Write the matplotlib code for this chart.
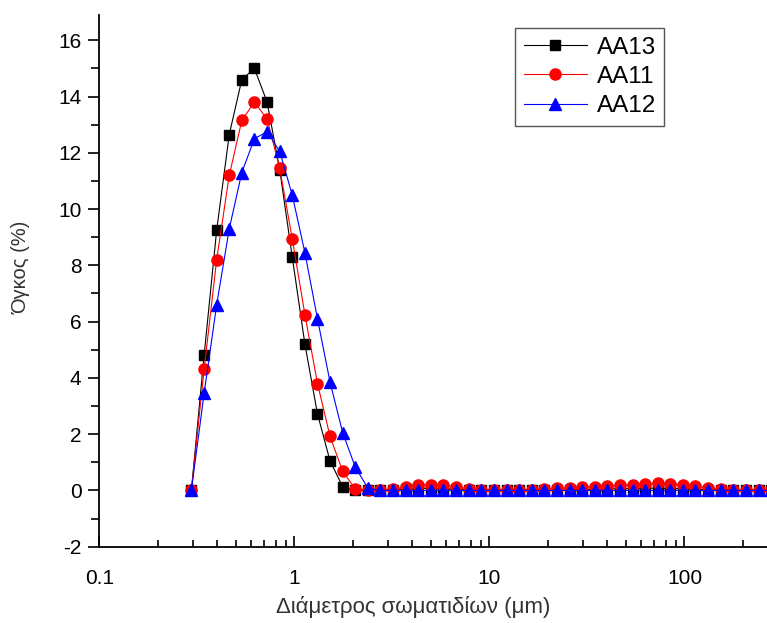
import matplotlib
matplotlib.use('Agg')
import matplotlib.pyplot as plt
from matplotlib.ticker import FixedLocator, NullFormatter, MultipleLocator

plt.rcParams['font.family'] = ['Liberation Sans', 'DejaVu Sans']
plt.rcParams['axes.unicode_minus'] = False

# particle diameter bins (um)
diameter = [0.296, 0.344, 0.399, 0.463, 0.537, 0.623, 0.724, 0.840, 0.974, 1.131,
            1.312, 1.522, 1.767, 2.050, 2.379, 2.761, 3.204, 3.718, 4.314, 5.007,
            5.810, 6.743, 7.825, 9.080, 10.54, 12.23, 14.19, 16.46, 19.10, 22.17,
            25.73, 29.85, 34.64, 40.20, 46.65, 54.14, 62.83, 72.91, 84.60, 98.15,
            113.9, 132.2, 153.4, 178.0, 206.5, 239.7, 278.1]

aa13 = [0.0, 4.8, 9.25, 12.65, 14.6, 15.0, 13.8, 11.4, 8.3, 5.2,
        2.72, 1.05, 0.13, 0.0, 0.0, 0.0, 0.02, 0.05, 0.07, 0.08,
        0.06, 0.04, 0.02, 0.0, 0.0, 0.0, 0.0, 0.0, 0.0, 0.0,
        0.02, 0.03, 0.04, 0.05, 0.06, 0.07, 0.08, 0.08, 0.07, 0.06,
        0.04, 0.02, 0.0, 0.0, 0.0, 0.0, 0.0]

aa11 = [0.0, 4.3, 8.2, 11.2, 13.15, 13.8, 13.2, 11.45, 8.95, 6.25,
        3.8, 1.92, 0.68, 0.05, 0.0, 0.0, 0.05, 0.12, 0.19, 0.21,
        0.18, 0.12, 0.06, 0.03, 0.02, 0.02, 0.02, 0.03, 0.05, 0.07,
        0.09, 0.11, 0.13, 0.15, 0.18, 0.21, 0.24, 0.25, 0.24, 0.21,
        0.16, 0.09, 0.04, 0.01, 0.0, 0.0, 0.0]

aa12 = [0.0, 3.45, 6.6, 9.3, 11.3, 12.5, 12.75, 12.05, 10.5, 8.45,
        6.1, 3.85, 2.05, 0.83, 0.08, 0.0, 0.0, 0.0, 0.0, 0.0,
        0.0, 0.0, 0.0, 0.0, 0.0, 0.0, 0.0, 0.0, 0.0, 0.0,
        0.0, 0.0, 0.0, 0.0, 0.0, 0.0, 0.0, 0.0, 0.0, 0.0,
        0.0, 0.0, 0.0, 0.0, 0.0, 0.0, 0.0]

fig = plt.figure(figsize=(7.67, 6.23), dpi=100)
ax = fig.add_axes([0.1297, 0.1225, 0.8703, 0.8535])

ax.plot(diameter, aa13, color='black', lw=0.8, marker='s', ms=7, label='AA13')
ax.plot(diameter, aa11, color='red', lw=0.8, marker='o', ms=8, label='AA11')
ax.plot(diameter, aa12, color='blue', lw=0.8, marker='^', ms=8.5, label='AA12')

ax.set_xscale('log')
ax.set_xlim(0.1, 265)
ax.set_ylim(-2, 16.9)

ax.set_xticks([0.1, 1, 10, 100])
ax.set_xticklabels(['0.1', '1', '10', '100'])
minors = [m * 10.0 ** e for e in range(-1, 3) for m in range(2, 10)]
ax.xaxis.set_minor_locator(FixedLocator(minors))
ax.xaxis.set_minor_formatter(NullFormatter())
ax.yaxis.set_major_locator(MultipleLocator(2))
ax.yaxis.set_minor_locator(MultipleLocator(1))

ax.tick_params(axis='x', which='major', direction='in', length=8, width=1.2, labelsize=15, pad=16)
ax.tick_params(axis='x', which='minor', direction='in', length=5, width=1.2)
ax.tick_params(axis='y', which='major', direction='out', length=8, width=1.2, labelsize=15, pad=5)
ax.tick_params(axis='y', which='minor', direction='out', length=6, width=1.2)

for side in ['top', 'right']:
    ax.spines[side].set_visible(False)
for side in ['left', 'bottom']:
    ax.spines[side].set_linewidth(1.3)

ax.set_xlabel('Διάμετρος σωματιδίων (μm)', fontsize=16, color='#333333')
ax.xaxis.set_label_coords(0.47, -0.093)
ax.set_ylabel('Όγκος (%)', fontsize=14.5, color='#333333')
ax.yaxis.set_label_coords(-0.103, 0.526)

leg = ax.legend(loc='upper right', bbox_to_anchor=(0.8645, 0.998), fontsize=17.5,
                fancybox=False, edgecolor='#555555', framealpha=1,
                handlelength=2.6, borderpad=0.35, labelspacing=0.3, handletextpad=0.4)
leg.get_frame().set_linewidth(1.0)

fig.savefig('out.png', dpi=100)
